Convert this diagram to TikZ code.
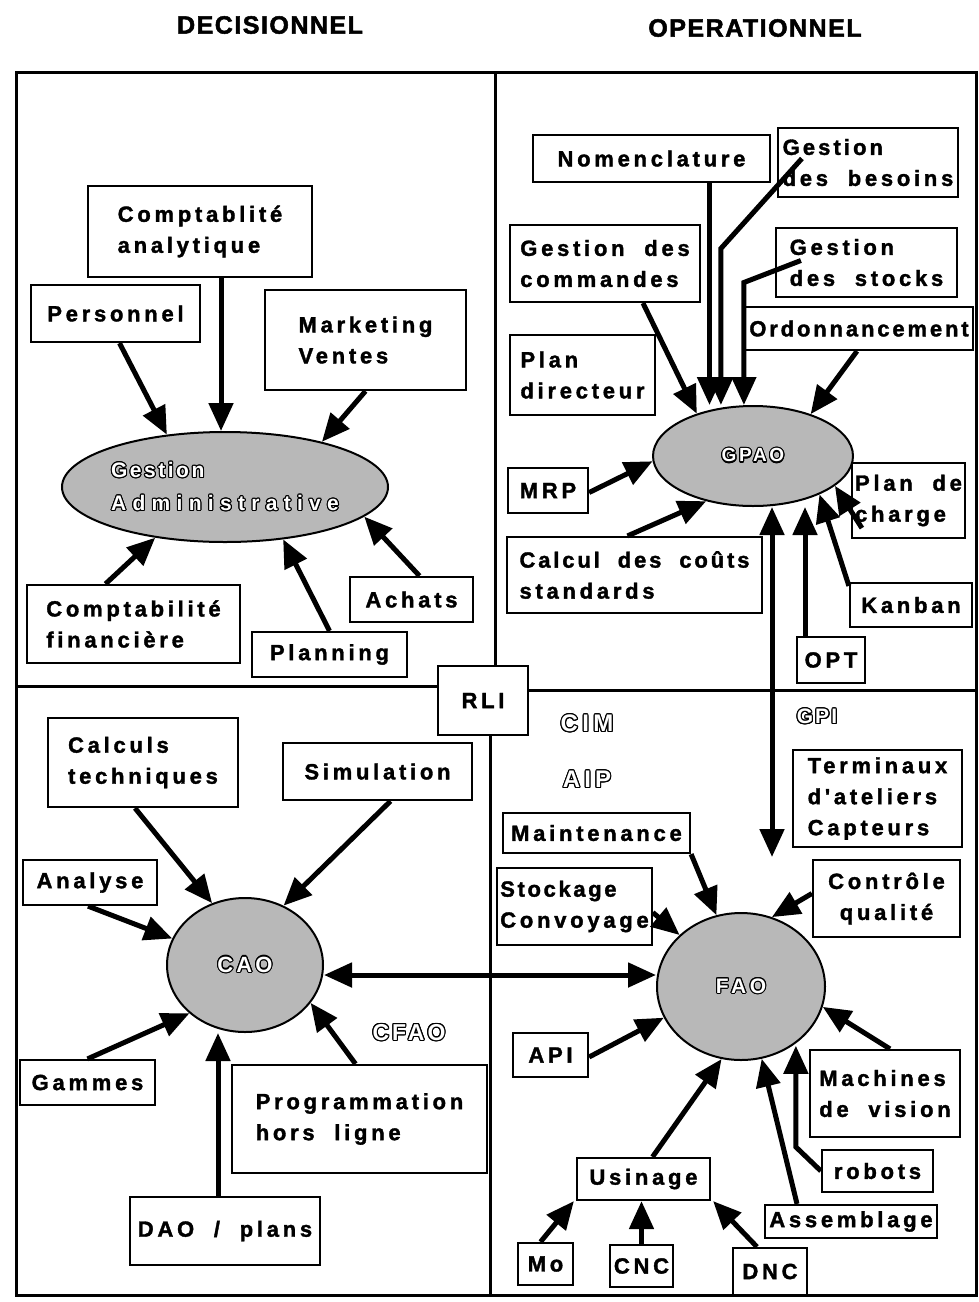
\documentclass[tikz,border=0pt]{standalone}
\usepackage{fontspec}
\usepackage[copies]{contour}
\usetikzlibrary{arrows.meta,shapes.geometric}

\newfontfamily\boxfont[LetterSpace=17, FakeBold=1.6]{Liberation Sans Bold}
\newfontfamily\outfont{Liberation Sans Bold}
\newfontfamily\headfont[LetterSpace=6, FakeBold=2]{Liberation Sans Bold}
\contourlength{1.1pt}

\begin{document}
\begin{tikzpicture}[x=1pt, y=-1pt,
    box/.style={draw, line width=2.2pt, fill=white, inner sep=3pt, align=left,
                font=\boxfont\fontsize{22}{31}\selectfont},
    blob/.style={ellipse, draw, line width=2pt, fill=black!28, inner sep=0pt,
                 text=white, align=left, font=\outfont\fontsize{20}{33}\selectfont},
    hollow/.style={text=white, font=\outfont\fontsize{22}{26}\selectfont},
    head/.style={font=\headfont\fontsize{25}{28}\selectfont},
    frame/.style={line width=3pt},
    arr/.style={line width=5pt, -{Triangle[length=28pt,width=24pt]}},
    darr/.style={line width=5pt, {Triangle[length=28pt,width=24pt]}-{Triangle[length=28pt,width=24pt]}}]

\useasboundingbox (0,0) rectangle (979,1302);

% headings over the two columns
\node[head] (dec) at (270,25) {DECISIONNEL};
\node[head] (oper) at (755,28) {OPERATIONNEL};

% outer frame, RLI in the middle, then the four quarters
\coordinate (nw) at (16,72);
\coordinate (se) at (976,1295);
\draw[frame] (nw) rectangle (se);
\node[box, minimum width=90, minimum height=69] (rli) at (483,700.5) {RLI};
\draw[frame] ([xshift=12pt]rli.north) -- ([xshift=12pt]rli.north |- nw);
\draw[frame] ([xshift=7pt]rli.south) -- ([xshift=7pt]rli.south |- se);
\draw[frame] ([yshift=14pt]rli.west) -- ([yshift=14pt]rli.west -| nw);
\draw[frame] ([yshift=10pt]rli.east) -- ([yshift=10pt]rli.east -| se);

% Gestion administrative (top left)
\node[box, minimum width=224, minimum height=91] (comptana) at (200,231.5) {Comptablité\\analytique};
\node[box, minimum width=169, minimum height=57] (perso) at (115.5,313.5) {Personnel};
\node[box, minimum width=201, minimum height=100] (market) at (365.5,340) {Marketing\\Ventes};
\node[blob, minimum width=326, minimum height=110, font=\outfont\fontsize{21}{33}\selectfont] (gestadm) at (225,487)
    {{\addfontfeature{LetterSpace=12}\contour{black}{Gestion}}\\{\addfontfeature{LetterSpace=30}\contour{black}{Administrative}}};
\node[box, minimum width=213, minimum height=78] (comptfin) at (133.5,624) {Comptabilité\\financière};
\node[box, minimum width=155, minimum height=45] (planning) at (329.5,654.5) {Planning};
\node[box, minimum width=123, minimum height=45] (achats) at (411.5,599.5) {Achats};

\draw[arr] ([xshift=4pt]perso.south) -- (gestadm.138);
\draw[arr] ([xshift=21pt]comptana.south) -- ([xshift=21pt]comptana.south |- gestadm.north);
\draw[arr] (market.south) -- (gestadm.25);
\draw[arr] ([xshift=-28pt]comptfin.north) -- (gestadm.216);
\draw[arr] (planning.north) -- (gestadm.318);
\draw[arr] ([xshift=8pt]achats.north) -- (gestadm.348);

% GPAO (top right)
\node[box, minimum width=237, minimum height=47] (nomencl) at (651.5,158.5) {Nomenclature};
\node[box, minimum width=180, minimum height=69] (besoins) at (868,162.5) {\addfontfeature{LetterSpace=14}Gestion\\des\ \ besoins};
\node[box, minimum width=190, minimum height=77] (cmd) at (605,263.5) {Gestion\ \ des\\commandes};
\node[box, minimum width=181, minimum height=69] (stocks) at (866.5,262.5) {Gestion\\des\ \ stocks};
\node[box, minimum width=228, minimum height=43] (ordo) at (859,328.5) {\addfontfeature{LetterSpace=13}Ordonnancement};
\node[box, minimum width=145, minimum height=80] (plandir) at (582.5,375) {Plan\\directeur};
\node[blob, minimum width=200, minimum height=100, font=\outfont\fontsize{19}{33}\selectfont] (gpao) at (753,456) {\addfontfeature{LetterSpace=14}\contour{black}{GPAO}};
\node[box, minimum width=80, minimum height=45] (mrp) at (548,490.5) {MRP};
\node[box, minimum width=255, minimum height=76] (couts) at (634.5,575) {\addfontfeature{LetterSpace=13}Calcul\ \ des\ \ coûts\\standards};
\node[box, minimum width=113, minimum height=75] (plancharge) at (908.5,500.5) {Plan\ \ de\\charge};
\node[box, minimum width=122, minimum height=44] (kanban) at (911,605) {Kanban};
\node[box, minimum width=68, minimum height=46] (opt) at (831,660) {OPT};

\draw[arr] ([xshift=38pt]cmd.south) -- (gpao.143);
\draw[arr] ([xshift=58pt]nomencl.south) -- ([xshift=58pt]nomencl.south |- gpao.north);
\draw[arr] ([xshift=25pt,yshift=4pt]besoins.west) -- ++(-81,90) coordinate (besbend) -- (besbend |- gpao.north);
\draw[arr] ([xshift=26pt,yshift=2pt]stocks.west) -- ++(-57,22) coordinate (stobend) -- (stobend |- gpao.north);
\draw[arr] ([xshift=-2pt]ordo.south) -- (gpao.36);
\draw[arr] ([yshift=-2pt]mrp.east) -- (gpao.183);
\draw[arr] ([xshift=-7pt]couts.north) -- (gpao.224);
\draw[arr] ([xshift=11pt,yshift=11pt]plancharge.south west) -- (gpao.340);
\draw[arr] ([yshift=-4pt]kanban.north west) -- (gpao.330);
\draw[arr] ([xshift=-26pt]opt.north) -- ([xshift=-26pt]opt.north |- gpao.south);

% CAO (bottom left)
\node[box, minimum width=190, minimum height=89] (calcul) at (143,762.5) {Calculs\\techniques};
\node[box, minimum width=189, minimum height=57] (simul) at (377.5,771.5) {Simulation};
\node[box, minimum width=134, minimum height=45] (analyse) at (90,882.5) {Analyse};
\node[blob, minimum width=156, minimum height=134, font=\outfont\fontsize{22}{33}\selectfont] (cao) at (245,965) {\addfontfeature{LetterSpace=14}\contour{black}{CAO}};
\node[box, minimum width=135, minimum height=45] (gammes) at (87.5,1082.5) {Gammes};
\node[box, minimum width=255, minimum height=108] (progr) at (359.5,1119) {Programmation\\hors\ \ ligne};
\node[box, minimum width=190, minimum height=68] (dao) at (225,1231) {DAO\ \ /\ \ plans};

\draw[arr] ([xshift=-8pt]calcul.south) -- (cao.118);
\draw[arr] ([xshift=13pt]simul.south) -- (cao.57);
\draw[arr] ([xshift=-2pt]analyse.south) -- (cao.160);
\draw[arr] (gammes.north) -- (cao.221);
\draw[arr] ([xshift=-7pt]dao.north) -- ([xshift=-7pt]dao.north |- cao.south);
\draw[arr] ([xshift=-4pt]progr.north) -- (cao.330);

% FAO (bottom right)
\node[box, minimum width=169, minimum height=97] (termin) at (877.5,798.5) {Terminaux\\d'ateliers\\Capteurs};
\node[box, minimum width=187, minimum height=40] (maint) at (596.5,833) {Maintenance};
\node[box, minimum width=145, minimum height=77] (stock) at (574.5,906.5) {\addfontfeature{LetterSpace=12}Stockage\\Convoyage};
\node[box, align=center, minimum width=147, minimum height=77] (controle) at (886.5,898.5) {Contrôle\\qualité};
\node[blob, minimum width=168, minimum height=147, font=\outfont\fontsize{21}{33}\selectfont] (fao) at (741,986.5) {\addfontfeature{LetterSpace=17}\contour{black}{FAO}};
\node[box, minimum width=75, minimum height=44] (api) at (550.5,1055) {API};
\node[box, minimum width=150, minimum height=87] (machines) at (885,1093.5) {Machines\\de\ \ vision};
\node[box, minimum width=111, minimum height=42] (robots) at (877.5,1171) {robots};
\node[box, minimum width=172, minimum height=33] (assembl) at (851,1221.5) {Assemblage};
\node[box, minimum width=133, minimum height=42] (usinage) at (643.5,1179) {Usinage};
\node[box, minimum width=55, minimum height=42] (mo) at (545.5,1264) {Mo};
\node[box, minimum width=63, minimum height=42] (cnc) at (641.5,1266) {CNC};
\node[box, minimum width=74, minimum height=47] (dnc) at (770,1271.5) {DNC};

\draw[arr] (maint.south east) -- (fao.109);
\draw[arr] ([yshift=-6pt]stock.east) -- (fao.140);
\draw[arr] ([yshift=5pt]controle.west) -- (fao.66);
\draw[arr] ([yshift=-2pt]api.east) -- (fao.202);
\draw[arr] ([xshift=5pt]machines.north) -- (fao.346);
\draw[arr] (robots.west) -- ++(-25,-24) coordinate (robbend) -- (robbend |- fao.311);
\draw[arr] ([xshift=-54pt]assembl.north) -- (fao.286);
\draw[arr] ([xshift=9pt]usinage.north) -- (fao.255);
\draw[arr] ([xshift=-5pt]mo.north) -- ([xshift=-2pt]usinage.south west);
\draw[arr] (cnc.north) -- (cnc.north |- usinage.south);
\draw[arr] ([xshift=-13pt]dnc.north) -- ([xshift=2pt]usinage.south east);

% links between the quarters
\draw[darr] ([yshift=-10pt]cao.east) -- ([yshift=-10pt]cao.east -| fao.west);
\draw[darr] ([xshift=19pt]gpao.south) -- ([xshift=31pt,yshift=55pt]fao.north);

% hollow labels
\node[hollow, font=\outfont\fontsize{24}{26}\selectfont] (cim) at (587,724) {\addfontfeature{LetterSpace=18}\contour{black}{CIM}};
\node[hollow, font=\outfont\fontsize{24}{26}\selectfont] (aip) at (587,780) {\addfontfeature{LetterSpace=17}\contour{black}{AIP}};
\node[hollow, font=\outfont\fontsize{21}{26}\selectfont] (gpi) at (817,717) {\addfontfeature{LetterSpace=10}\contour{black}{GPI}};
\node[hollow, font=\outfont\fontsize{23}{26}\selectfont] (cfao) at (409,1033) {\addfontfeature{LetterSpace=13}\contour{black}{CFAO}};
\end{tikzpicture}
\end{document}
